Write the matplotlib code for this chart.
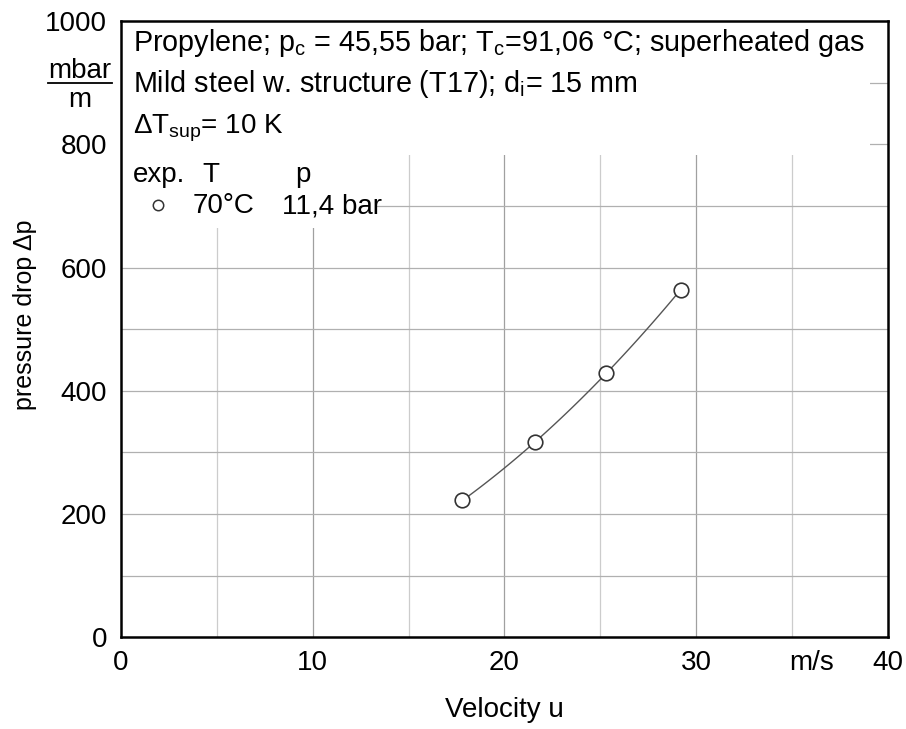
import numpy as np
import matplotlib
matplotlib.use("Agg")
import matplotlib.pyplot as plt
from matplotlib.patches import Rectangle
from matplotlib.lines import Line2D

plt.rcParams["font.family"] = ["Liberation Sans", "DejaVu Sans"]
plt.rcParams["mathtext.fontset"] = "custom"
plt.rcParams["mathtext.rm"] = "Liberation Sans"
plt.rcParams["mathtext.it"] = "Liberation Sans"

# measured points: propylene, 70 °C, 11,4 bar
velocity = [17.8, 21.6, 25.3, 29.2]
dp = [222, 316, 429, 564]

x_ticks = [0, 10, 20, 30, 40]
y_ticks = [0, 200, 400, 600, 800, 1000]

fig = plt.figure(figsize=(9.06, 7.29), dpi=100)
ax = fig.add_axes([0.1336, 0.126, 0.8464, 0.845])

ax.set_xlim(0, 40)
ax.set_ylim(0, 1000)

# grid: every 5 m/s, every 100 mbar/m
for xv in np.arange(5, 40, 5):
    c = "#a0a0a0" if xv % 10 == 0 else "#cccccc"
    ax.axvline(xv, color=c, lw=0.9, zorder=1)
for yv in np.arange(100, 1000, 100):
    ax.axhline(yv, color="#b0b0b0", lw=0.9, zorder=1)

# white area behind the header text and the legend
ax.add_patch(Rectangle((0, 782), 39.05, 220, facecolor="white", edgecolor="none", zorder=2))
ax.add_patch(Rectangle((0, 664), 13.25, 130, facecolor="white", edgecolor="none", zorder=2))

# fitted curve through the points
coef = np.polyfit(velocity, dp, 2)
xs = np.linspace(velocity[0], velocity[-1], 100)
ax.plot(xs, np.polyval(coef, xs), color="#555555", lw=1.0, zorder=3)
ax.plot(velocity, dp, ls="none", marker="o", ms=10.5, mfc="white", mec="#333333", mew=1.2, zorder=4)

# ticks
ax.set_xticks(x_ticks)
ax.set_yticks(y_ticks)
ax.tick_params(length=0, labelsize=20)
ax.tick_params(axis="x", pad=9)
ax.tick_params(axis="y", pad=10)
for s in ax.spines.values():
    s.set_linewidth(1.8)
    s.set_zorder(5)

ax.text(36.0, -0.042, "m/s", transform=ax.get_xaxis_transform(), ha="center", va="center", fontsize=20)
fig.text(0.0883, 0.893, "mbar", ha="center", va="baseline", fontsize=20)
fig.text(0.0883, 0.853, "m", ha="center", va="baseline", fontsize=20)
fig.add_artist(Line2D([0.053, 0.1236], [0.886, 0.886], color="black", lw=1.3))

fig.text(0.557, 0.0165, "Velocity u", ha="center", va="baseline", fontsize=20)
fig.text(0.0276, 0.568, "pressure drop Δp", rotation=90, ha="center", va="center", fontsize=18)

# header text
fs = 20
hx = 0.0156
ax.text(hx, 0.9513, r"Propylene; p$_\mathregular{c}$ = 45,55 bar; T$_\mathregular{c}$=91,06 °C; superheated gas",
        transform=ax.transAxes, fontsize=20.7, va="baseline", zorder=6)
ax.text(hx, 0.8847, r"Mild steel w. structure (T17); d$_\mathregular{i}$= 15 mm",
        transform=ax.transAxes, fontsize=20.7, va="baseline", zorder=6)
ax.text(hx, 0.818, r"ΔT$_\mathregular{sup}$= 10 K",
        transform=ax.transAxes, fontsize=fs, va="baseline", zorder=6)
ax.text(hx, 0.7386, "exp.", transform=ax.transAxes, fontsize=fs, va="baseline", zorder=6)
ax.text(0.1056, 0.7386, "T", transform=ax.transAxes, fontsize=fs, va="baseline", zorder=6)
ax.text(0.2269, 0.7386, "p", transform=ax.transAxes, fontsize=fs, va="baseline", zorder=6)
ax.plot([0.0478], [0.701], transform=ax.transAxes, ls="none", marker="o", ms=7.5,
        mfc="white", mec="#333333", mew=1.1, zorder=6, clip_on=False)
ax.text(0.0939, 0.688, "70°C", transform=ax.transAxes, fontsize=fs, va="baseline", zorder=6)
ax.text(0.2099, 0.688, "11,4 bar", transform=ax.transAxes, fontsize=fs, va="baseline", zorder=6)

fig.savefig("out.png", dpi=100)
